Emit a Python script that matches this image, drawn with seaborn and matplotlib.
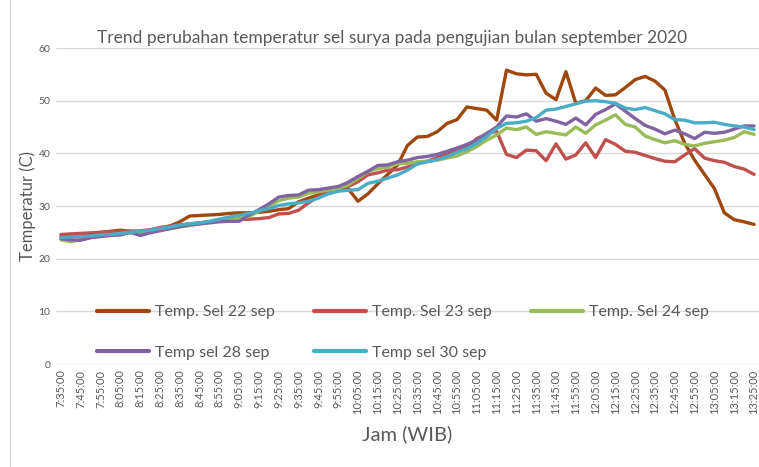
import matplotlib
matplotlib.use("Agg")
import matplotlib.pyplot as plt
import seaborn as sns
import pandas as pd
from matplotlib.lines import Line2D

# ---- data ----
times = []
for m in range(7 * 60 + 35, 13 * 60 + 26, 5):
    times.append(f"{m // 60}:{m % 60:02d}:00")

sel_22 = [24.2, 24.4, 24.6, 24.8, 25.0, 25.2, 25.4, 25.2, 25.1, 25.4,
          25.7, 26.2, 27.0, 28.1, 28.2, 28.3, 28.4, 28.6, 28.7, 28.7,
          28.8, 29.0, 29.3, 29.5, 30.8, 31.5, 32.1, 32.6, 33.0, 33.3,
          30.9, 32.3, 34.2, 36.0, 37.8, 41.5, 43.1, 43.2, 44.1, 45.7,
          46.4, 48.8, 48.5, 48.2, 46.3, 55.8, 55.1, 54.9, 55.0, 51.4,
          50.2, 55.5, 49.5, 50.0, 52.4, 51.0, 51.1, 52.5, 54.0, 54.6,
          53.7, 52.0, 46.4, 41.9, 38.7, 36.0, 33.3, 28.7, 27.4, 27.0,
          26.5]
sel_23 = [24.6, 24.7, 24.8, 24.9, 25.0, 25.1, 25.1, 25.2, 25.3, 25.5,
          25.9, 26.2, 26.4, 26.6, 26.8, 27.0, 27.2, 27.3, 27.4, 27.5,
          27.6, 27.8, 28.5, 28.6, 29.2, 30.6, 31.8, 32.8, 33.3, 33.7,
          34.6, 35.9, 36.3, 36.8, 36.9, 37.4, 38.0, 38.5, 39.2, 39.8,
          40.5, 41.2, 42.8, 43.7, 44.2, 39.8, 39.2, 40.6, 40.5, 38.6,
          41.8, 38.9, 39.7, 42.0, 39.2, 42.6, 41.7, 40.4, 40.2, 39.6,
          39.0, 38.5, 38.4, 39.7, 40.9, 39.1, 38.6, 38.3, 37.5, 37.0,
          36.0]
sel_24 = [23.6, 23.2, 23.6, 24.0, 24.3, 24.5, 24.7, 24.9, 25.0, 25.2,
          25.4, 25.7, 26.0, 26.3, 26.6, 26.9, 27.2, 27.4, 27.6, 28.0,
          29.0, 30.0, 31.0, 31.5, 31.7, 32.4, 32.7, 33.0, 33.3, 34.0,
          35.2, 36.5, 37.1, 37.4, 38.0, 38.1, 38.4, 38.5, 38.7, 39.1,
          39.5, 40.3, 41.3, 42.5, 43.5, 44.8, 44.5, 45.0, 43.6, 44.1,
          43.8, 43.5, 45.0, 43.8, 45.4, 46.3, 47.3, 45.5, 45.0, 43.3,
          42.6, 42.0, 42.4, 41.7, 41.4, 41.9, 42.2, 42.5, 43.0, 44.1,
          43.6]
sel_28 = [23.8, 23.6, 23.5, 24.0, 24.2, 24.4, 24.5, 25.0, 24.4, 24.9,
          25.3, 25.7, 26.1, 26.4, 26.6, 26.8, 27.0, 27.1, 27.1, 28.3,
          29.3, 30.4, 31.7, 32.0, 32.1, 33.0, 33.1, 33.4, 33.7, 34.5,
          35.6, 36.6, 37.7, 37.8, 38.4, 38.7, 39.2, 39.4, 39.8, 40.4,
          41.0, 41.7, 42.5, 43.8, 45.0, 47.1, 46.9, 47.5, 46.1, 46.6,
          46.1, 45.5, 46.7, 45.4, 47.4, 48.3, 49.4, 48.0, 46.6, 45.3,
          44.6, 43.7, 44.4, 43.7, 42.8, 44.0, 43.8, 44.0, 44.6, 45.2,
          45.2]
sel_30 = [24.0, 24.1, 24.2, 24.3, 24.5, 24.6, 24.8, 25.0, 25.2, 25.4,
          25.7, 26.0, 26.4, 26.6, 26.8, 27.1, 27.5, 27.9, 28.2, 28.6,
          29.1, 29.5, 30.1, 30.4, 30.6, 30.9, 31.5, 32.3, 32.8, 33.0,
          33.1, 34.3, 34.7, 35.3, 35.9, 36.8, 38.0, 38.4, 38.8, 39.4,
          40.2, 40.9, 41.9, 43.2, 44.7, 45.7, 45.8, 46.1, 46.8, 48.2,
          48.4, 48.9, 49.4, 49.9, 50.0, 49.8, 49.5, 48.6, 48.3, 48.7,
          48.1, 47.5, 46.4, 46.3, 45.8, 45.8, 45.9, 45.5, 45.2, 45.0,
          44.5]

series_names = ["Temp. Sel 22 sep", "Temp. Sel 23 sep", "Temp. Sel 24 sep",
                "Temp sel 28 sep", "Temp sel 30 sep"]
series_values = [sel_22, sel_23, sel_24, sel_28, sel_30]
colors = ["#9E480E", "#C0504D", "#9BBB59", "#8064A2", "#4BACC6"]

y_ticks = [0, 10, 20, 30, 40, 50, 60]

rows = []
for name, vals in zip(series_names, series_values):
    for i, (t, v) in enumerate(zip(times, vals)):
        rows.append({"idx": i, "time": t, "series": name, "temp": v})
df = pd.DataFrame(rows)

# ---- style ----
sns.set_theme(style="white")
plt.rcParams["font.family"] = ["Lato", "DejaVu Sans"]
grey = "#595959"

fig = plt.figure(figsize=(7.59, 4.67), dpi=100)
ax = fig.add_axes([56 / 759, 1 - 364 / 467, (759 - 56) / 759, (364 - 48) / 467])

sns.lineplot(data=df, x="idx", y="temp", hue="series", hue_order=series_names,
             palette=colors, linewidth=2.4, ax=ax, legend=False, sort=False)

ax.set_xlim(-0.5, len(times) - 0.5)
ax.set_ylim(0, 60)
ax.set_yticks(y_ticks)
ax.set_yticklabels([str(v) for v in y_ticks], fontsize=7.5, color=grey)
ax.set_xticks(range(0, len(times), 2))
ax.set_xticklabels(times[::2], rotation=90, fontsize=8, color=grey)
ax.tick_params(axis="both", length=0, pad=4)
ax.yaxis.grid(True, color="#d9d9d9", linewidth=1.0)
ax.xaxis.grid(False)
for s in ax.spines.values():
    s.set_visible(False)
ax.set_axisbelow(True)

ax.set_xlabel("Jam (WIB)", fontsize=14.5, color=grey, labelpad=8)
ax.set_ylabel("Temperatur (C)", fontsize=12, color=grey, labelpad=2)

fig.text(392 / 759, 1 - 38 / 467, "Trend perubahan temperatur sel surya pada pengujian bulan september 2020",
         ha="center", va="center", fontsize=12.5, color=grey)

# legend: row-major order as in the reference (matplotlib fills column-wise)
order = [0, 3, 1, 4, 2]
handles = [Line2D([0], [0], color=colors[k], linewidth=3) for k in order]
labels = [series_names[k] for k in order]
leg = fig.legend(handles, labels, loc="upper left",
                 bbox_to_anchor=(97 / 759, 1 - 305 / 467), bbox_transform=fig.transFigure,
                 ncol=3, frameon=False, fontsize=11.5, handlelength=3.25,
                 handletextpad=0.37, columnspacing=2.45, labelspacing=1.65,
                 borderpad=0, borderaxespad=0)
for t in leg.get_texts():
    t.set_color(grey)

fig.add_artist(Line2D([10 / 759, 10 / 759], [0, 1], transform=fig.transFigure,
                      color="#d9d9d9", linewidth=1.0))

fig.savefig("out.png", dpi=100)
